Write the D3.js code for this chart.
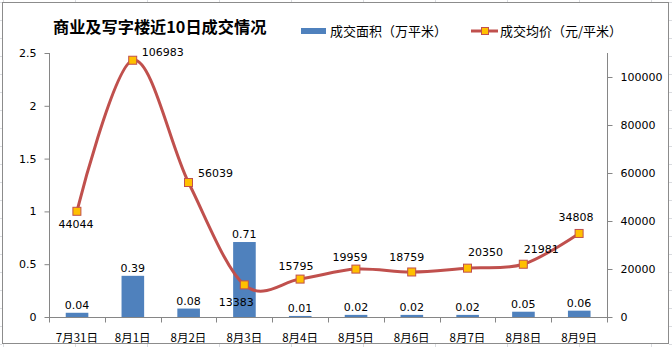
<!DOCTYPE html>
<html>
<head>
<meta charset="utf-8">
<script src="https://cdn.jsdelivr.net/npm/d3@7/dist/d3.min.js"></script>
<style>
  html, body { margin: 0; padding: 0; background: #fff; }
  svg { display: block; }
  text { font-family: "DejaVu Sans", Verdana, sans-serif; }
  .cjk { font-family: "Noto Sans CJK SC", "Noto Sans", sans-serif; }
</style>
</head>
<body>
<svg id="chart" width="672" height="347"></svg>
<script>
// Daily figures for commercial & office space, last 10 days
const dates = ["7月31日", "8月1日", "8月2日", "8月3日", "8月4日", "8月5日", "8月6日", "8月7日", "8月8日", "8月9日"];
const areaValues = [0.04, 0.39, 0.08, 0.71, 0.01, 0.02, 0.02, 0.02, 0.05, 0.06];      // 万平米
const priceValues = [44044, 106983, 56039, 13383, 15795, 19959, 18759, 20350, 21981, 34808]; // 元/平米
const areaTicks = [0, 0.5, 1, 1.5, 2, 2.5];
const priceTicks = [0, 20000, 40000, 60000, 80000, 100000];

const titleText = "商业及写字楼近10日成交情况";
const legendArea = "成交面积（万平米）";
const legendPrice = "成交均价（元/平米）";

// Price label offsets (dx, dy) from each marker
const priceLabelOffsets = [[-1, 13], [30, -8], [27, -9], [-8, 17], [-4, -13], [-6, -12], [-5, -15], [18, -16], [18, -15], [-3, -16]];

const BLUE = "#4F81BD", RED = "#C0504D", GOLD = "#FFC000", AXIS = "#868686";

const svg = d3.select("#chart");

// spreadsheet cell lines around the chart frame
const cells = svg.append("g").attr("stroke", "#DADCE0").attr("stroke-width", 1);
for (let x = 3; x < 672; x += 72) {
  cells.append("line").attr("x1", x + 0.5).attr("x2", x + 0.5).attr("y1", 0).attr("y2", 2);
  cells.append("line").attr("x1", x + 0.5).attr("x2", x + 0.5).attr("y1", 344).attr("y2", 347);
}
for (let y = 2; y < 347; y += 18) {
  cells.append("line").attr("x1", 0).attr("x2", 2).attr("y1", y + 0.5).attr("y2", y + 0.5);
  cells.append("line").attr("x1", 669).attr("x2", 672).attr("y1", y + 0.5).attr("y2", y + 0.5);
}

// chart frame
svg.append("rect").attr("x", 2.5).attr("y", 2.5).attr("width", 666).attr("height", 341)
  .attr("fill", "#fff").attr("stroke", "#8C8C8C").attr("stroke-width", 1);

const plot = { left: 49, right: 607, top: 53, bottom: 317 };

const x = d3.scaleBand().domain(dates).range([plot.left, plot.right]).paddingInner(0).paddingOuter(0);
const yL = d3.scaleLinear().domain([0, 2.5]).range([plot.bottom, plot.top]);
const yR = d3.scaleLinear().domain([0, 110000]).range([plot.bottom, plot.top]);

// title
svg.append("text").attr("class", "cjk").attr("x", 53).attr("y", 33)
  .attr("font-size", 16.2).attr("font-weight", "bold").attr("fill", "#000")
  .text(titleText);

// legend
const lg = svg.append("g");
lg.append("rect").attr("x", 301).attr("y", 28).attr("width", 25).attr("height", 6).attr("fill", BLUE);
lg.append("text").attr("class", "cjk").attr("x", 330).attr("y", 35.5).attr("font-size", 13).attr("fill", "#000").text(legendArea);
lg.append("line").attr("x1", 471).attr("x2", 498).attr("y1", 31).attr("y2", 31).attr("stroke", RED).attr("stroke-width", 3);
lg.append("rect").attr("x", 481.5).attr("y", 27.5).attr("width", 7).attr("height", 7).attr("fill", GOLD).attr("stroke", RED).attr("stroke-width", 1);
lg.append("text").attr("class", "cjk").attr("x", 500).attr("y", 35.5).attr("font-size", 13).attr("fill", "#000").text(legendPrice);

// left axis
const axL = svg.append("g").attr("transform", `translate(${plot.left + 0.5},0)`)
  .call(d3.axisLeft(yL).tickValues(areaTicks).tickSize(5).tickPadding(8).tickFormat(d => d3.format("~g")(d)));
// right axis
const axR = svg.append("g").attr("transform", `translate(${plot.right + 0.5},0)`)
  .call(d3.axisRight(yR).tickValues(priceTicks).tickSize(5).tickPadding(8).tickFormat(d3.format("d")));
[axL, axR].forEach(g => {
  g.select(".domain").attr("stroke", AXIS).attr("d", `M0,${plot.top}V${plot.bottom}`);
  g.selectAll(".tick line").attr("stroke", AXIS);
  g.selectAll(".tick text").attr("font-size", 11).attr("fill", "#000")
    .attr("font-family", "'DejaVu Sans', Verdana, sans-serif");
});

// bars
svg.append("g").selectAll("rect").data(areaValues).join("rect")
  .attr("x", (d, i) => x(dates[i]) + x.bandwidth() * 0.3)
  .attr("width", x.bandwidth() * 0.405)
  .attr("y", d => yL(d))
  .attr("height", d => yL(0) - yL(d))
  .attr("fill", BLUE);

// x axis
const axX = svg.append("g").attr("transform", `translate(0,${plot.bottom + 0.5})`);
axX.append("line").attr("x1", plot.left).attr("x2", plot.right + 5).attr("stroke", AXIS);
const bounds = d3.range(dates.length + 1).map(i => plot.left + i * x.step());
axX.selectAll("line.tk").data(bounds).join("line").attr("class", "tk")
  .attr("x1", d => Math.round(d) + 0.5).attr("x2", d => Math.round(d) + 0.5)
  .attr("y1", 0).attr("y2", 5).attr("stroke", AXIS);
axX.selectAll("text").data(dates).join("text").attr("class", "cjk")
  .attr("x", d => x(d) + x.bandwidth() / 2).attr("y", 24)
  .attr("text-anchor", "middle").attr("font-size", 11.5).attr("fill", "#000")
  .text(d => d);

// bar value labels
svg.append("g").selectAll("text").data(areaValues).join("text")
  .attr("x", (d, i) => x(dates[i]) + x.bandwidth() / 2)
  .attr("y", d => yL(d) - 4)
  .attr("text-anchor", "middle").attr("font-size", 11).attr("fill", "#000")
  .text(d => d.toFixed(2));

// price line (smoothed)
const cx = i => x(dates[i]) + x.bandwidth() / 2;
const line = d3.line().x((d, i) => cx(i)).y(d => yR(d)).curve(d3.curveCardinal.tension(0));
svg.append("path").datum(priceValues).attr("d", line)
  .attr("fill", "none").attr("stroke", RED).attr("stroke-width", 3).attr("stroke-linejoin", "round");

// markers
svg.append("g").selectAll("rect").data(priceValues).join("rect")
  .attr("x", (d, i) => cx(i) - 4).attr("y", d => yR(d) - 4)
  .attr("width", 8).attr("height", 8)
  .attr("fill", GOLD).attr("stroke", RED).attr("stroke-width", 1);

// price labels
svg.append("g").selectAll("text").data(priceValues).join("text")
  .attr("x", (d, i) => cx(i) + priceLabelOffsets[i][0])
  .attr("y", (d, i) => yR(d) + priceLabelOffsets[i][1])
  .attr("dy", "0.35em")
  .attr("text-anchor", "middle").attr("font-size", 11).attr("fill", "#000")
  .text(d => d);
</script>
</body>
</html>
